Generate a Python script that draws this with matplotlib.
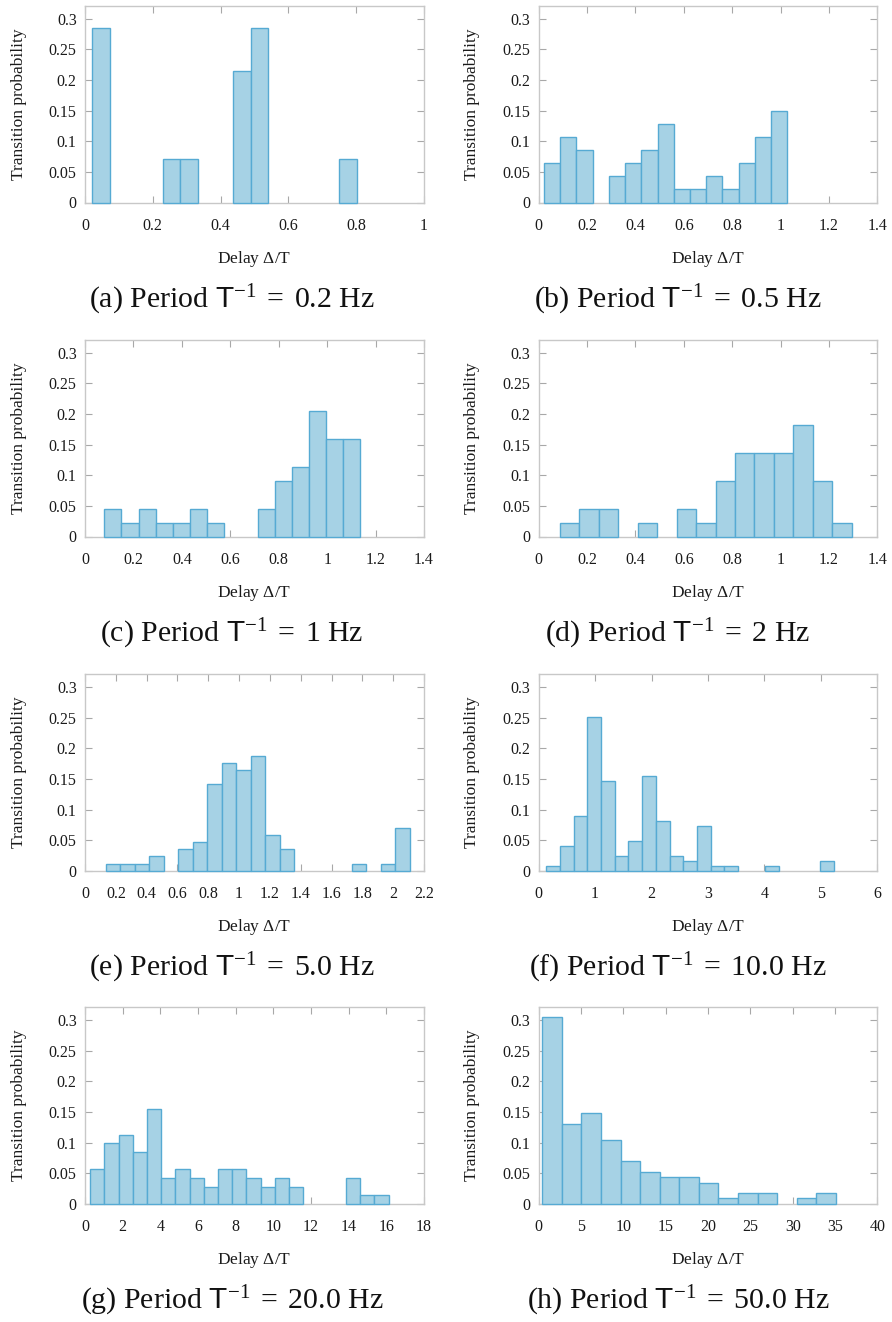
import numpy as np
import matplotlib
matplotlib.use("Agg")
import matplotlib.pyplot as plt

plt.rcParams["font.family"] = ["Liberation Serif", "DejaVu Serif"]
plt.rcParams["mathtext.fontset"] = "custom"
plt.rcParams["mathtext.rm"] = "Liberation Serif"
plt.rcParams["mathtext.sf"] = "Liberation Sans"
plt.rcParams["mathtext.it"] = "Liberation Serif:italic"

# Histogram data per stimulation frequency: first bin edge, bin width, counts
freqs = ["0.2", "0.5", "1", "2", "5.0", "10.0", "20.0", "50.0"]
letters = ["a", "b", "c", "d", "e", "f", "g", "h"]

bin_start = [0.021, 0.0227, 0.080, 0.087, 0.1345, 0.1356, 0.276, 0.434]
bin_width = [0.052, 0.0670, 0.0705, 0.0805, 0.0940, 0.2426, 0.7543, 2.311]

counts_a = [4, 0, 0, 0, 1, 1, 0, 0, 3, 4, 0, 0, 0, 0, 1]
counts_b = [3, 5, 4, 0, 2, 3, 4, 6, 1, 1, 2, 1, 3, 5, 7]
counts_c = [2, 1, 2, 1, 1, 2, 1, 0, 0, 2, 4, 5, 9, 7, 7]
counts_d = [1, 2, 2, 0, 1, 0, 2, 1, 4, 6, 6, 6, 8, 4, 1]
counts_e = [1, 1, 1, 2, 0, 3, 4, 12, 15, 14, 16, 5, 3, 0, 0, 0, 0, 1, 0, 1, 6]
counts_f = [1, 5, 11, 31, 18, 3, 6, 19, 10, 3, 2, 9, 1, 1, 0, 0, 1, 0, 0, 0, 2]
counts_g = [4, 7, 8, 6, 11, 3, 4, 3, 2, 4, 4, 3, 2, 3, 2, 0, 0, 0, 3, 1, 1]
counts_h = [35, 15, 17, 12, 8, 6, 5, 5, 4, 1, 2, 2, 0, 1, 2]

all_counts = [counts_a, counts_b, counts_c, counts_d,
              counts_e, counts_f, counts_g, counts_h]

x_max = [1.0, 1.4, 1.4, 1.4, 2.2, 6.0, 18.0, 40.0]
x_ticks = [
    [0, 0.2, 0.4, 0.6, 0.8, 1],
    [0, 0.2, 0.4, 0.6, 0.8, 1, 1.2, 1.4],
    [0, 0.2, 0.4, 0.6, 0.8, 1, 1.2, 1.4],
    [0, 0.2, 0.4, 0.6, 0.8, 1, 1.2, 1.4],
    [0, 0.2, 0.4, 0.6, 0.8, 1, 1.2, 1.4, 1.6, 1.8, 2, 2.2],
    [0, 1, 2, 3, 4, 5, 6],
    [0, 2, 4, 6, 8, 10, 12, 14, 16, 18],
    [0, 5, 10, 15, 20, 25, 30, 35, 40],
]
y_ticks = [0, 0.05, 0.1, 0.15, 0.2, 0.25, 0.3]
y_tick_labels = ["0", "0.05", "0.1", "0.15", "0.2", "0.25", "0.3"]

FILL = "#a6d2e5"
EDGE = "#56aad3"
FRAME = "#c8c8c8"
TICK = "#a8a8a8"
TEXT = "#1a1a1a"

W, H = 892, 1322
col_left = [85, 538.5]
col_caption = [232, 678]
row_top = [6, 340, 674.3, 1007.3]
ax_w, ax_h = 339, 196.5

fig = plt.figure(figsize=(W / 100, H / 100), dpi=100)

for i in range(8):
    r, c = divmod(i, 2)
    left, top = col_left[c], row_top[r]
    ax = fig.add_axes([left / W, 1 - (top + ax_h) / H, ax_w / W, ax_h / H])

    counts = np.asarray(all_counts[i], dtype=float)
    prob = counts / counts.sum()
    edges = bin_start[i] + bin_width[i] * np.arange(len(counts))
    keep = prob > 0
    ax.bar(edges[keep], prob[keep], width=bin_width[i], align="edge",
           color=FILL, edgecolor=EDGE, linewidth=1.0, zorder=3,
           clip_on=False)

    ax.set_xlim(0, x_max[i])
    ax.set_ylim(0, 0.321)
    ax.set_xticks(x_ticks[i])
    ax.set_xticklabels([f"{v:g}" for v in x_ticks[i]])
    ax.set_yticks(y_ticks)
    ax.set_yticklabels(y_tick_labels)

    for s in ax.spines.values():
        s.set_color(FRAME)
        s.set_linewidth(1.0)
    ax.tick_params(direction="in", length=5, width=0.8, color=TICK,
                   top=True, right=True, labelsize=11.5, labelcolor=TEXT)
    ax.tick_params(axis="x", pad=11)
    ax.tick_params(axis="y", pad=6)

    ax.set_xlabel(r"Delay $\Delta$/T", fontsize=12.5, color=TEXT)
    ax.xaxis.set_label_coords(0.5, -0.235)
    ax.set_ylabel("Transition probability", fontsize=12.5, color=TEXT)
    ax.yaxis.set_label_coords(-0.172, 0.5)

    fig.text(col_caption[c] / W, 1 - (top + 294) / H,
             rf"({letters[i]}) Period $\mathsf{{T}}^{{-1}}\;=\;{freqs[i]}$ Hz",
             ha="center", va="center", fontsize=21.5, color="#111111")

fig.savefig("out.png", dpi=100, facecolor="white")
